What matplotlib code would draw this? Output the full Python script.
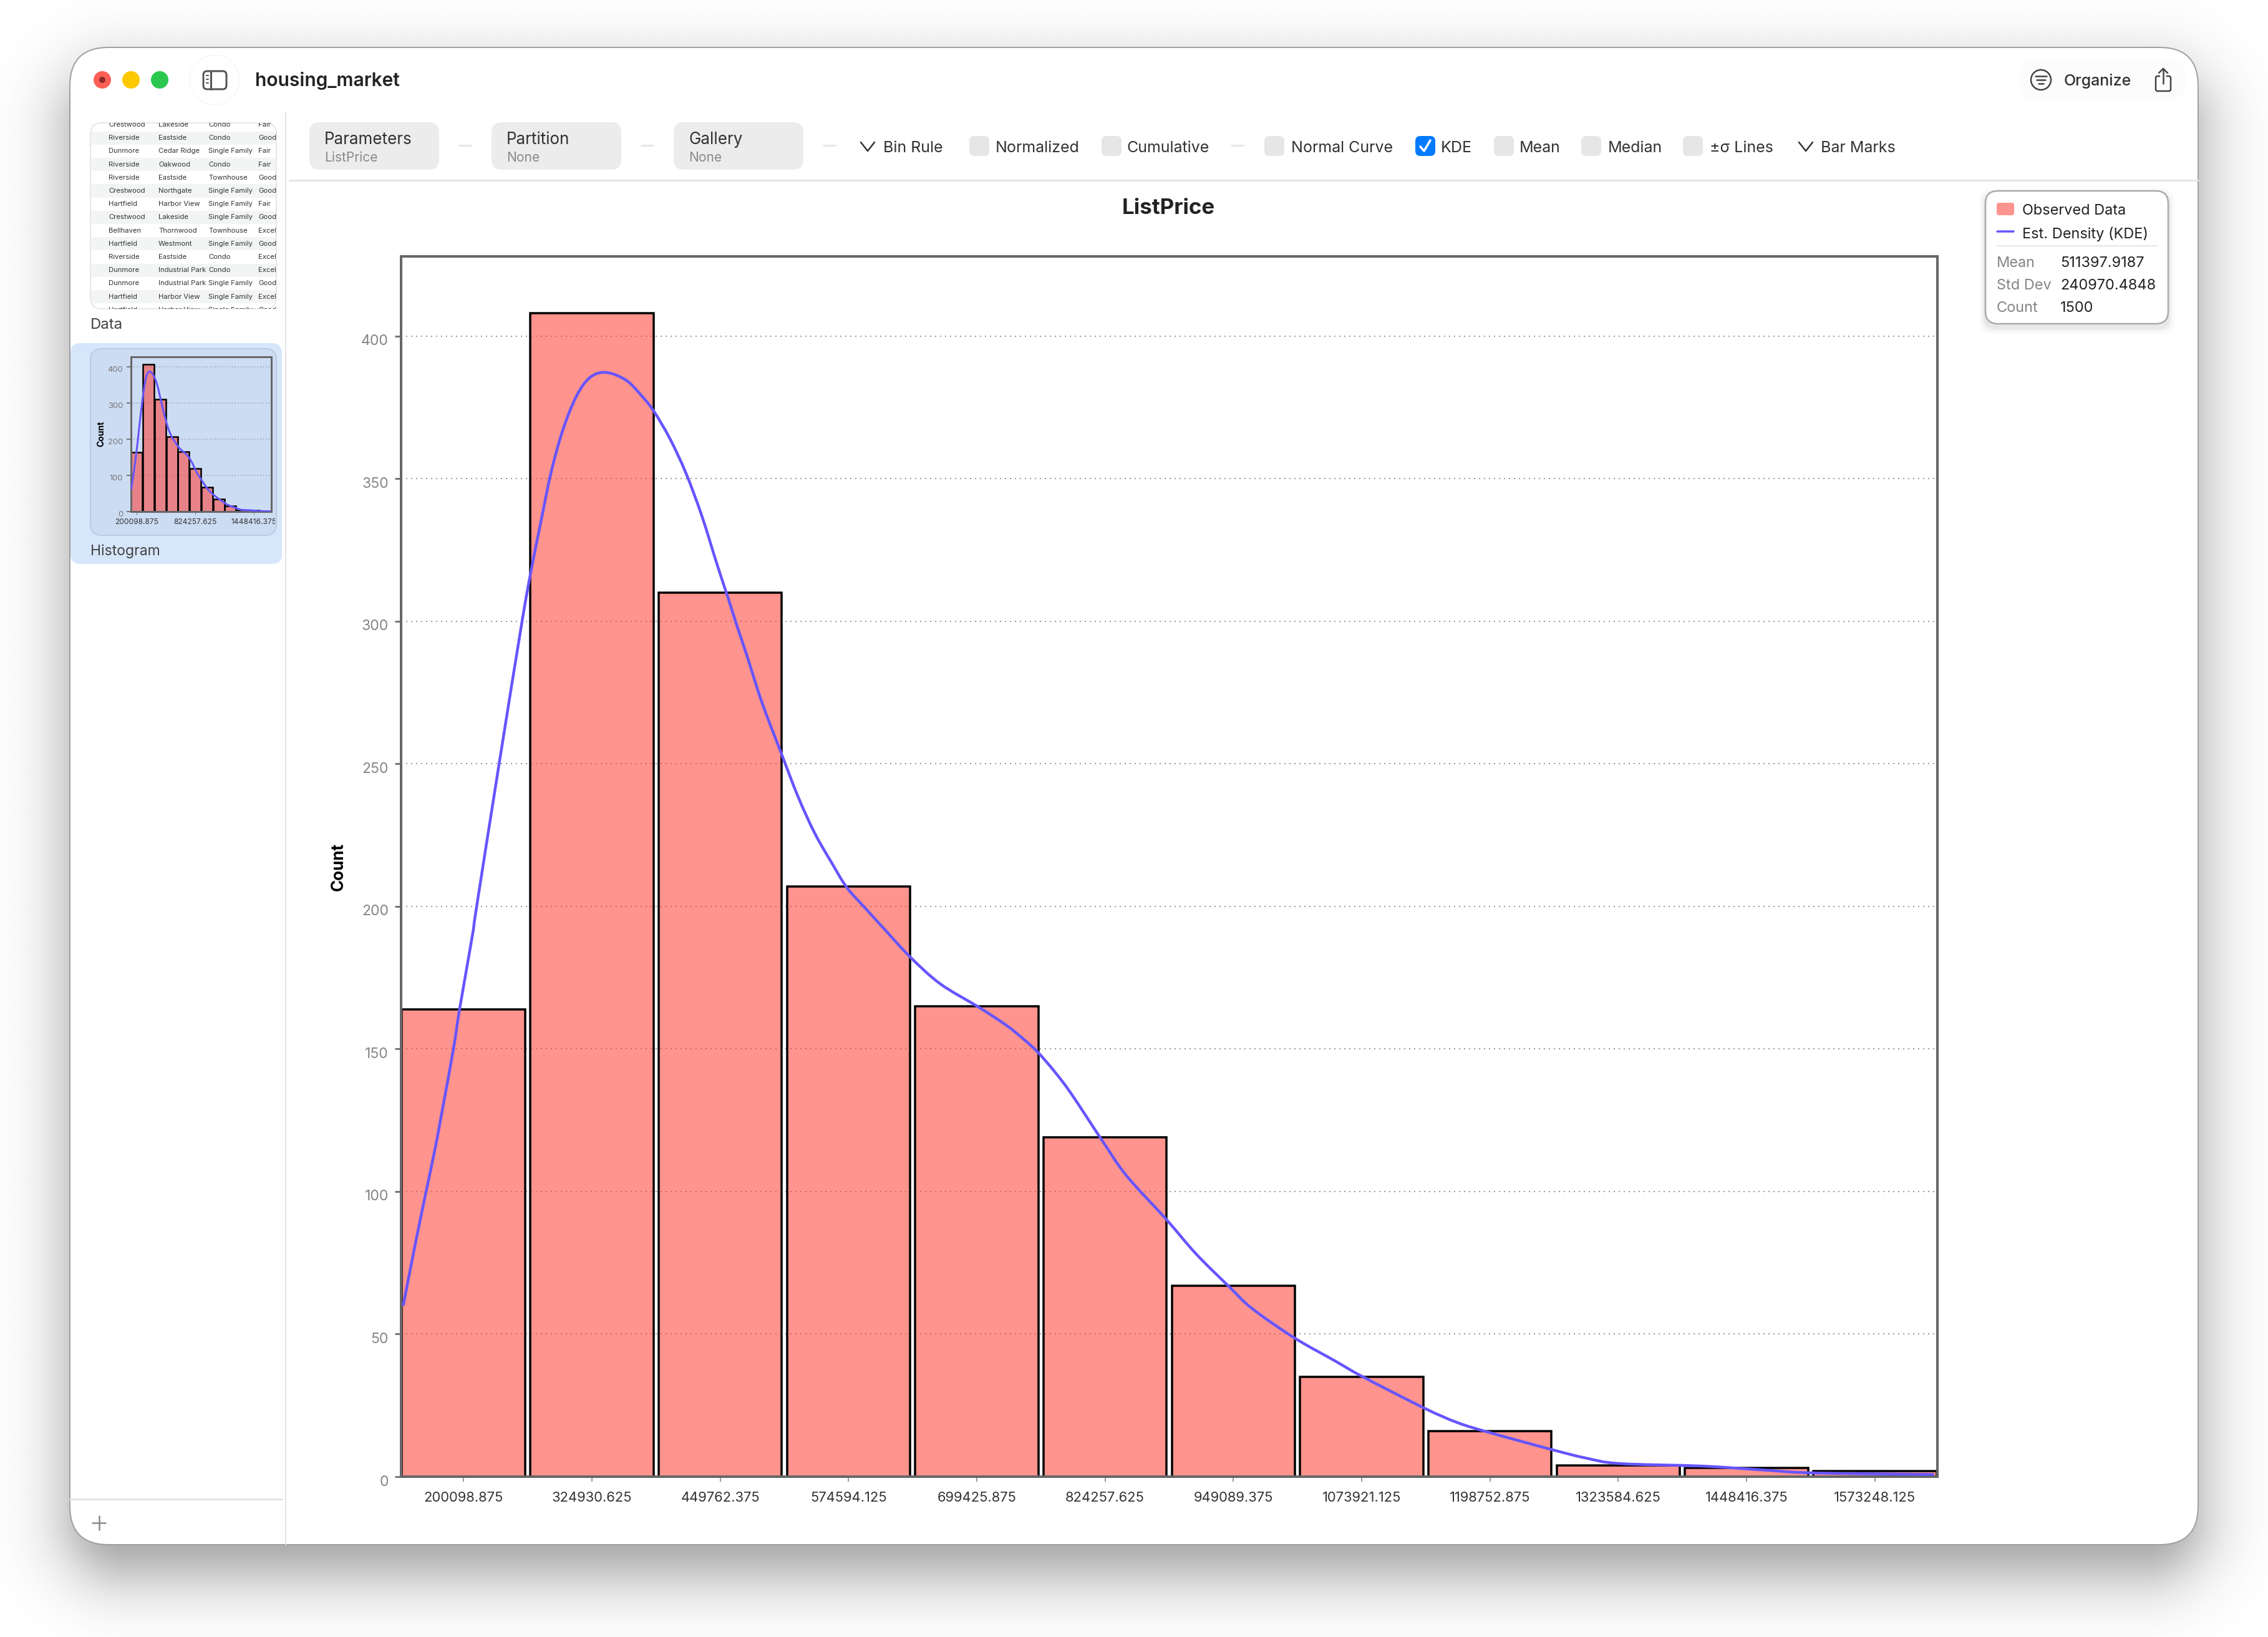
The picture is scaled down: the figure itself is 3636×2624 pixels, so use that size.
import matplotlib
matplotlib.use("Agg")
import matplotlib.pyplot as plt
import numpy as np
from matplotlib.patches import Circle, FancyBboxPatch, PathPatch, Rectangle
from matplotlib.path import Path
from matplotlib.transforms import Bbox, ScaledTranslation

W, H = 3636, 2624
DPI = 100
plt.rcParams['font.family'] = ['Inter', 'DejaVu Sans']

# histogram
bin_labels = ['200098.875', '324930.625', '449762.375', '574594.125', '699425.875', '824257.625',
              '949089.375', '1073921.125', '1198752.875', '1323584.625', '1448416.375', '1573248.125']
bin_counts = [164, 408, 310, 207, 165, 119, 67, 35, 16, 4, 3, 2]
y_ticks = [0, 50, 100, 150, 200, 250, 300, 350, 400]
mini_y_ticks = [0, 100, 200, 300, 400]
mini_x_ticks = [0, 5, 10]

# kde curve, x is in bin positions
kde_x = [-0.47, -0.379, -0.292, -0.224, -0.175, -0.079, -0.031, 0.068, 0.102, 0.277, 0.456, 0.525, 0.603,
         0.681, 0.773, 0.880, 0.987, 1.113, 1.269, 1.390, 1.483, 1.609, 1.733, 1.857, 1.979, 2.056, 2.134,
         2.207, 2.326, 2.478, 2.608, 2.737, 2.868, 2.988, 3.129, 3.281, 3.476, 3.714, 4.018, 4.234, 4.366,
         4.473, 4.604, 4.735, 4.973, 5.168, 5.474, 5.712, 5.970, 6.145, 6.471, 6.796, 7.01, 7.49, 7.75,
         8.01, 8.49, 8.75, 9.01, 9.66, 10.14, 10.53, 11.46]
kde_y = [60, 81, 100, 114.6, 126.3, 150, 164, 189.6, 200, 250, 300, 317.5, 335,
         352, 367, 379, 385.6, 387.3, 384.5, 379, 373.7, 364, 352, 337, 319.5, 309, 298,
         288.2, 271.5, 253.5, 238.4, 225.7, 215.4, 206.6, 199.5, 192, 182.5, 172.9, 164.6, 158.2, 153.4,
         149, 142.2, 134.4, 118.2, 105.5, 90.4, 78, 66.5, 59, 48.8, 40.5, 35, 24, 18.9,
         15.3, 9.4, 6.5, 4.6, 3.7, 2.3, 1.3, 0.77]

# legend stats
stat_names = ['Mean', 'Std Dev', 'Count']
stat_values = ['511397.9187', '240970.4848', '1500']

# data thumbnail
table_rows = [
    ['Crestwood', 'Lakeside', 'Condo', 'Fair'],
    ['Riverside', 'Eastside', 'Condo', 'Good'],
    ['Dunmore', 'Cedar Ridge', 'Single Family', 'Fair'],
    ['Riverside', 'Oakwood', 'Condo', 'Fair'],
    ['Riverside', 'Eastside', 'Townhouse', 'Good'],
    ['Crestwood', 'Northgate', 'Single Family', 'Good'],
    ['Hartfield', 'Harbor View', 'Single Family', 'Fair'],
    ['Crestwood', 'Lakeside', 'Single Family', 'Good'],
    ['Bellhaven', 'Thornwood', 'Townhouse', 'Excellent'],
    ['Hartfield', 'Westmont', 'Single Family', 'Good'],
    ['Riverside', 'Eastside', 'Condo', 'Excellent'],
    ['Dunmore', 'Industrial Park', 'Condo', 'Excellent'],
    ['Dunmore', 'Industrial Park', 'Single Family', 'Good'],
    ['Hartfield', 'Harbor View', 'Single Family', 'Excellent'],
    ['Hartfield', 'Harbor View', 'Single Family', 'Good'],
]

BAR_RED = '#ff3b30'
KDE_BLUE = '#6655ff'
# thumbnail content stops at these edges, in figure pixels
TABLE_CLIP = Bbox([[147, H - 495], [443, H - 197]])
THUMB_CLIP = Bbox([[147, H - 858], [441, H - 559]])


def px(n):
    return n * 72 / DPI


def box(ax, x0, y0, x1, y1, r, fc, ec='none', lw=0, z=1, alpha=None):
    p = FancyBboxPatch((x0, y0), x1 - x0, y1 - y0, boxstyle=f'round,pad=0,rounding_size={r}',
                       fc=fc, ec=ec, lw=px(lw), zorder=z, alpha=alpha)
    ax.add_patch(p)
    return p


def line(ax, xs, ys, color, lw, z=2):
    ax.plot(xs, ys, color=color, lw=px(lw), zorder=z, solid_capstyle='round', solid_joinstyle='round')


def text(ax, x, y, s, size, color='#222222', weight='normal', ha='left', z=3, **kw):
    return ax.text(x, y + 4, s, fontsize=px(size), color=color, fontweight=weight, ha=ha, va='center',
                   zorder=z, **kw)


def smooth_path(xs, ys):
    # bezier segments through the read points so the curve has no corners
    pts = np.column_stack([xs, ys])
    verts = [pts[0]]
    codes = [Path.MOVETO]
    for i in range(len(pts) - 1):
        before = pts[max(i - 1, 0)]
        after = pts[min(i + 2, len(pts) - 1)]
        verts += [pts[i] + (pts[i + 1] - before) / 6, pts[i + 1] - (after - pts[i]) / 6, pts[i + 1]]
        codes += [Path.CURVE4] * 3
    return Path(verts, codes)


def chart_axes(rect, spine_lw, bar_lw, line_lw, grid_lw, grid_dash):
    x0, y0, x1, y1 = rect
    ax = fig.add_axes([x0 / W, 1 - y1 / H, (x1 - x0) / W, (y1 - y0) / H], zorder=2)
    ax.patch.set_alpha(0)
    pos = np.arange(len(bin_counts))
    ax.bar(pos, bin_counts, width=0.96, color=BAR_RED, alpha=0.55, zorder=2)
    ax.bar(pos, bin_counts, width=0.96, fill=False, edgecolor='black', lw=px(bar_lw), zorder=2.2)
    ax.add_patch(PathPatch(smooth_path(kde_x, kde_y), fill=False, edgecolor=KDE_BLUE, lw=px(line_lw), zorder=3))
    ax.set_xlim(-0.487, 11.487)
    ax.set_ylim(0, 428)
    ax.grid(axis='y', color='#9a9a9a', lw=px(grid_lw), linestyle=grid_dash, zorder=1)
    ax.set_axisbelow(True)
    for s in ax.spines.values():
        s.set_color('#666666')
        s.set_linewidth(px(spine_lw))
    return ax


fig = plt.figure(figsize=(W / DPI, H / DPI), dpi=DPI, facecolor='white')
ui = fig.add_axes([0, 0, 1, 1], zorder=0)
ui.set_axis_off()

# window shadow
yy, xx = np.mgrid[0:H:2, 0:W:2]
radius = 90
qx = np.abs(xx - (112 + 3524) / 2) - ((3524 - 112) / 2 - radius)
qy = np.abs(yy - (120 + 2520) / 2) - ((2520 - 120) / 2 - radius)
dist = np.hypot(np.maximum(qx, 0), np.maximum(qy, 0)) + np.minimum(np.maximum(qx, qy), 0) - radius
shadow = 1 - 0.4 / (1 + np.exp(np.clip(dist / 32, -50, 50)))
ui.imshow(shadow, extent=(0, W, H, 0), cmap='gray', vmin=0, vmax=1, aspect='auto', zorder=0,
          interpolation='bilinear')
ui.set_xlim(0, W)
ui.set_ylim(H, 0)

box(ui, 112, 76, 3524, 2476, 62, 'white', ec='#a0a0a0', lw=2, z=1)

# title bar
for cx, col in [(164, '#ff5f57'), (210, '#fdc800'), (256, '#2ac84f')]:
    ui.add_patch(Circle((cx, 128), 14, fc=col, ec='none', zorder=2))
ui.add_patch(Circle((164, 128), 5, fc='#8e2a27', ec='none', zorder=3))
ui.add_patch(Circle((344, 128), 40, fc='white', ec='#f8f8f8', lw=px(2), zorder=2))
box(ui, 326, 114, 363, 143, 6, 'none', ec='#555555', lw=3, z=3)
line(ui, [338, 338], [114, 143], '#555555', 3, 3)
for yy_ in [121, 127, 133]:
    line(ui, [331, 334], [yy_, yy_], '#555555', 2, 3)
text(ui, 409, 126, 'housing_market', 30, weight='semibold')

box(ui, 3237, 92, 3505, 164, 36, '#fcfcfc', z=2)
ui.add_patch(Circle((3272, 128), 16, fc='none', ec='#444444', lw=px(2.5), zorder=3))
for half, yy_ in [(9, 122), (7, 128), (4, 134)]:
    line(ui, [3272 - half, 3272 + half], [yy_, yy_], '#444444', 2.5, 3)
text(ui, 3309, 126, 'Organize', 25, color='#333333', weight='medium')
box(ui, 3456, 122, 3480, 146, 3, 'none', ec='#444444', lw=2.5, z=3)
ui.add_patch(Rectangle((3463, 116), 10, 12, fc='#fcfcfc', ec='none', zorder=3.1))
line(ui, [3468, 3468], [110, 134], '#444444', 2.5, 3.2)
line(ui, [3461, 3468, 3475], [117, 110, 117], '#444444', 2.5, 3.2)

# sidebar
line(ui, [458, 458], [180, 2476], '#e4e4e4', 2)
line(ui, [112, 452], [2403, 2403], '#e4e4e4', 3)
line(ui, [148, 169], [2441, 2441], '#8a8a8a', 2.5)
line(ui, [158.5, 158.5], [2430, 2452], '#8a8a8a', 2.5)

clip_table = box(ui, 145, 197, 443, 495, 18, 'white', ec='#e6e6e6', lw=2, z=2)
for i, row in enumerate(table_rows):
    cy = 200 + 21.2 * i
    if i % 2 == 1:
        stripe = Rectangle((146, cy - 10.6), 296, 21.2, fc='#f3f5f5', ec='none', zorder=2.1)
        ui.add_patch(stripe)
        stripe.set_clip_path(clip_table)
    for cx, val in zip([174, 254, 334, 414], row):
        t = text(ui, cx, cy - 4, val, 11.3, color='#333333')
        t.set_clip_on(True)
        t.set_clip_box(TABLE_CLIP)
text(ui, 145, 517, 'Data', 24, color='#444444')

box(ui, 113, 550, 452, 904, 16, '#d6e6fb', z=1.5)
box(ui, 145, 559, 443, 858, 18, '#ccdcf3', ec='#bccbe0', lw=2, z=2)
text(ui, 145, 880, 'Histogram', 23, color='#444444')

# toolbar
for x0, title, sub in [(496, 'Parameters', 'ListPrice'), (788, 'Partition', 'None'), (1080, 'Gallery', 'None')]:
    box(ui, x0, 196, x0 + 208, 272, 16, '#ececec')
    text(ui, x0 + 24, 220, title, 26, color='#333333')
    text(ui, x0 + 24, 249, sub, 21, color='#8a8a8a')
for x0 in [736, 1028, 1320, 1974]:
    line(ui, [x0, x0 + 19], [233, 233], '#e6e6e6', 3)
line(ui, [1380, 1391, 1402], [228, 242, 228], '#333333', 2.5)
line(ui, [2884, 2895, 2906], [228, 242, 228], '#333333', 2.5)
text(ui, 1416, 234, 'Bin Rule', 25, color='#333333')
text(ui, 2919, 234, 'Bar Marks', 25, color='#333333')
for x0, tx, label in [(1554, 1596, 'Normalized'), (1766, 1807, 'Cumulative'), (2027, 2070, 'Normal Curve'),
                      (2269, 2310, 'KDE'), (2395, 2436, 'Mean'), (2535, 2578, 'Median'),
                      (2698, 2741, '±σ Lines')]:
    checked = label == 'KDE'
    box(ui, x0, 218, x0 + 32, 250, 8, '#007aff' if checked else '#e6e6e6')
    if checked:
        line(ui, [x0 + 8, x0 + 14, x0 + 24], [235, 242, 225], 'white', 3.5, 3)
    text(ui, tx, 234, label, 25, color='#333333')
line(ui, [464, 3524], [289, 289], '#e4e4e4', 3)

# legend
for grow, a in [(10, 0.02), (6, 0.03), (3, 0.04)]:
    box(ui, 3183 - grow, 306 - grow + 6, 3476 + grow, 519 + grow + 6, 20, 'black', z=1.6, alpha=a)
box(ui, 3183, 306, 3476, 519, 20, 'white', ec='#aaaaaa', lw=2.5, z=2)
box(ui, 3201, 325, 3229, 345, 4, BAR_RED, z=3, alpha=0.55)
line(ui, [3202, 3228], [371, 371], KDE_BLUE, 3.5, 3)
text(ui, 3242, 334, 'Observed Data', 23.5)
text(ui, 3242, 371, 'Est. Density (KDE)', 23.5)
line(ui, [3201, 3458], [394, 394], '#dddddd', 1.5, 3)
for yy_, name, value in zip([418, 454, 490], stat_names, stat_values):
    text(ui, 3201, yy_, name, 23.5, color='#858585')
    text(ui, 3303, yy_, value, 23.5)

text(ui, 1873, 330, 'ListPrice', 35, weight='bold', ha='center')
text(ui, 543, 1385, 'Count', 26, color='black', weight='bold', ha='center', rotation=90)
text(ui, 162, 691, 'Count', 14, color='black', weight='bold', ha='center', rotation=90)

# main chart
ax = chart_axes((643, 411, 3106, 2367), 4, 3.5, 4.5, 2, (0, (1, 3)))
ax.set_xticks(range(len(bin_labels)), bin_labels)
ax.set_yticks(y_ticks)
ax.tick_params(axis='x', length=px(8), width=px(1.5), color='#777777', pad=px(16), labelsize=px(22),
               labelcolor='#333333')
ax.tick_params(axis='y', length=px(10), width=px(3), color='#777777', pad=px(10), labelsize=px(23),
               labelcolor='#858585')
offset = ScaledTranslation(0, -6 / DPI, fig.dpi_scale_trans)
for lab in ax.get_yticklabels():
    lab.set_transform(lab.get_transform() + offset)

# thumbnail chart
mini = chart_axes((210, 572, 435, 820), 3, 2.5, 3, 1.5, (0, (1, 2)))
mini.set_xticks(mini_x_ticks, [bin_labels[i] for i in mini_x_ticks])
mini.set_yticks(mini_y_ticks)
mini.tick_params(axis='x', length=px(5), width=px(1), color='#777777', pad=px(6), labelsize=px(12),
                 labelcolor='#333333')
mini.tick_params(axis='y', length=px(7), width=px(2), color='#777777', pad=px(6), labelsize=px(13),
                 labelcolor='#777777')
for lab in mini.get_xticklabels():
    lab.set_clip_on(True)
    lab.set_clip_box(THUMB_CLIP)
offset_mini = ScaledTranslation(0, -3 / DPI, fig.dpi_scale_trans)
for lab in mini.get_yticklabels():
    lab.set_transform(lab.get_transform() + offset_mini)

fig.savefig('out.png', dpi=DPI)
